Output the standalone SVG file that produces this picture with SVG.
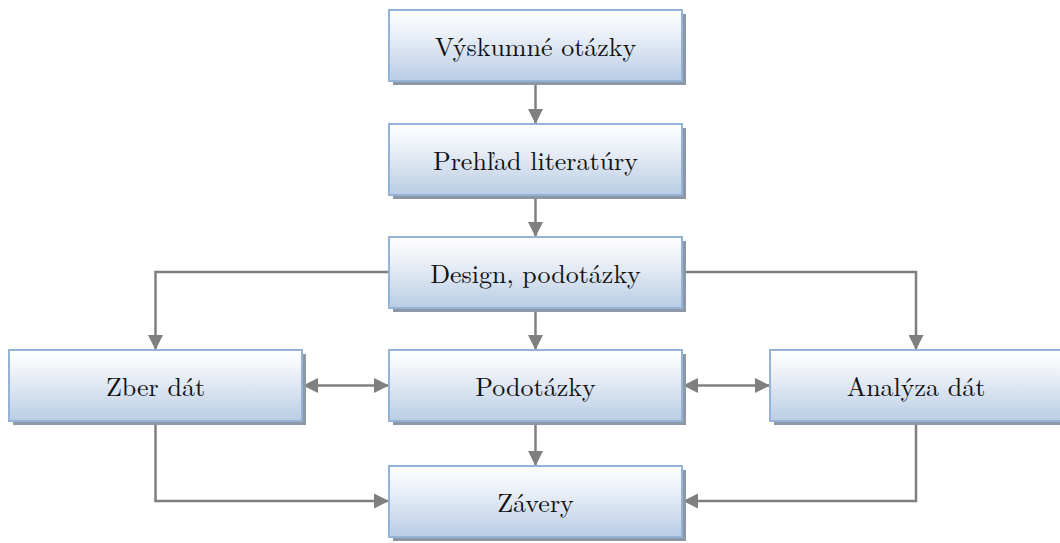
<svg xmlns="http://www.w3.org/2000/svg" width="1060" height="543" viewBox="0 0 1060 543">
  <style>
    .box { fill: url(#boxFill); stroke: #95b3d7; stroke-width: 2; }
    .shadow { fill: #8d98a6; }
    .label { font-family: "Latin Modern Roman", "DejaVu Serif", "Liberation Serif", serif; font-size: 26px; fill: #111; text-anchor: middle; dominant-baseline: central; }
    .link { fill: none; stroke: #7f7f7f; stroke-width: 2.5; }
  </style>
  <defs>
    <linearGradient id="boxFill" x1="0" y1="0" x2="0" y2="1">
      <stop offset="0" stop-color="#ffffff"/>
      <stop offset="0.3" stop-color="#eef2f8"/>
      <stop offset="1" stop-color="#b9cde5"/>
    </linearGradient>
    <marker id="arrow" viewBox="0 0 15 15" refX="15" refY="7.5" markerWidth="15" markerHeight="15" markerUnits="userSpaceOnUse" orient="auto-start-reverse">
      <path d="M0,0 L15,7.5 L0,15 Z" fill="#7f7f7f"/>
    </marker>
  </defs>

  <!-- connectors -->
  <g id="connectors">
    <path class="link" d="M535.5,81 V124" marker-end="url(#arrow)"/>
    <path class="link" d="M535.5,195 V237" marker-end="url(#arrow)"/>
    <path class="link" d="M535.5,308 V350" marker-end="url(#arrow)"/>
    <path class="link" d="M535.5,421 V466" marker-end="url(#arrow)"/>
    <path class="link" d="M389,272 H155.5 V350" marker-end="url(#arrow)"/>
    <path class="link" d="M682,272 H916 V350" marker-end="url(#arrow)"/>
    <path class="link" d="M303,385.5 H389" marker-start="url(#arrow)" marker-end="url(#arrow)"/>
    <path class="link" d="M683,385.5 H770" marker-start="url(#arrow)" marker-end="url(#arrow)"/>
    <path class="link" d="M155.5,421 V501 H389" marker-end="url(#arrow)"/>
    <path class="link" d="M916,421 V501 H683" marker-end="url(#arrow)"/>
  </g>

  <!-- nodes -->
  <g id="vyskumne-otazky">
    <rect class="shadow" x="393" y="14" width="293" height="71"/>
    <rect class="box" x="389" y="10" width="293" height="71"/>
    <text class="label" x="535.5" y="45.5">Výskumné otázky</text>
  </g>
  <g id="prehlad-literatury">
    <rect class="shadow" x="393" y="128" width="293" height="71"/>
    <rect class="box" x="389" y="124" width="293" height="71"/>
    <text class="label" x="535.5" y="159.5">Prehľad literatúry</text>
  </g>
  <g id="design-podotazky">
    <rect class="shadow" x="393" y="241" width="293" height="71"/>
    <rect class="box" x="389" y="237" width="293" height="71"/>
    <text class="label" x="535.5" y="272.5">Design, podotázky</text>
  </g>
  <g id="zber-dat">
    <rect class="shadow" x="13" y="354" width="293" height="71"/>
    <rect class="box" x="9" y="350" width="293" height="71"/>
    <text class="label" x="155.5" y="385.5">Zber dát</text>
  </g>
  <g id="podotazky">
    <rect class="shadow" x="393" y="354" width="293" height="71"/>
    <rect class="box" x="389" y="350" width="293" height="71"/>
    <text class="label" x="535.5" y="385.5">Podotázky</text>
  </g>
  <g id="analyza-dat">
    <rect class="shadow" x="774" y="354" width="293" height="71"/>
    <rect class="box" x="770" y="350" width="293" height="71"/>
    <text class="label" x="916" y="385.5">Analýza dát</text>
  </g>
  <g id="zavery">
    <rect class="shadow" x="393" y="470" width="293" height="71"/>
    <rect class="box" x="389" y="466" width="293" height="71"/>
    <text class="label" x="535.5" y="501.5">Závery</text>
  </g>
</svg>
